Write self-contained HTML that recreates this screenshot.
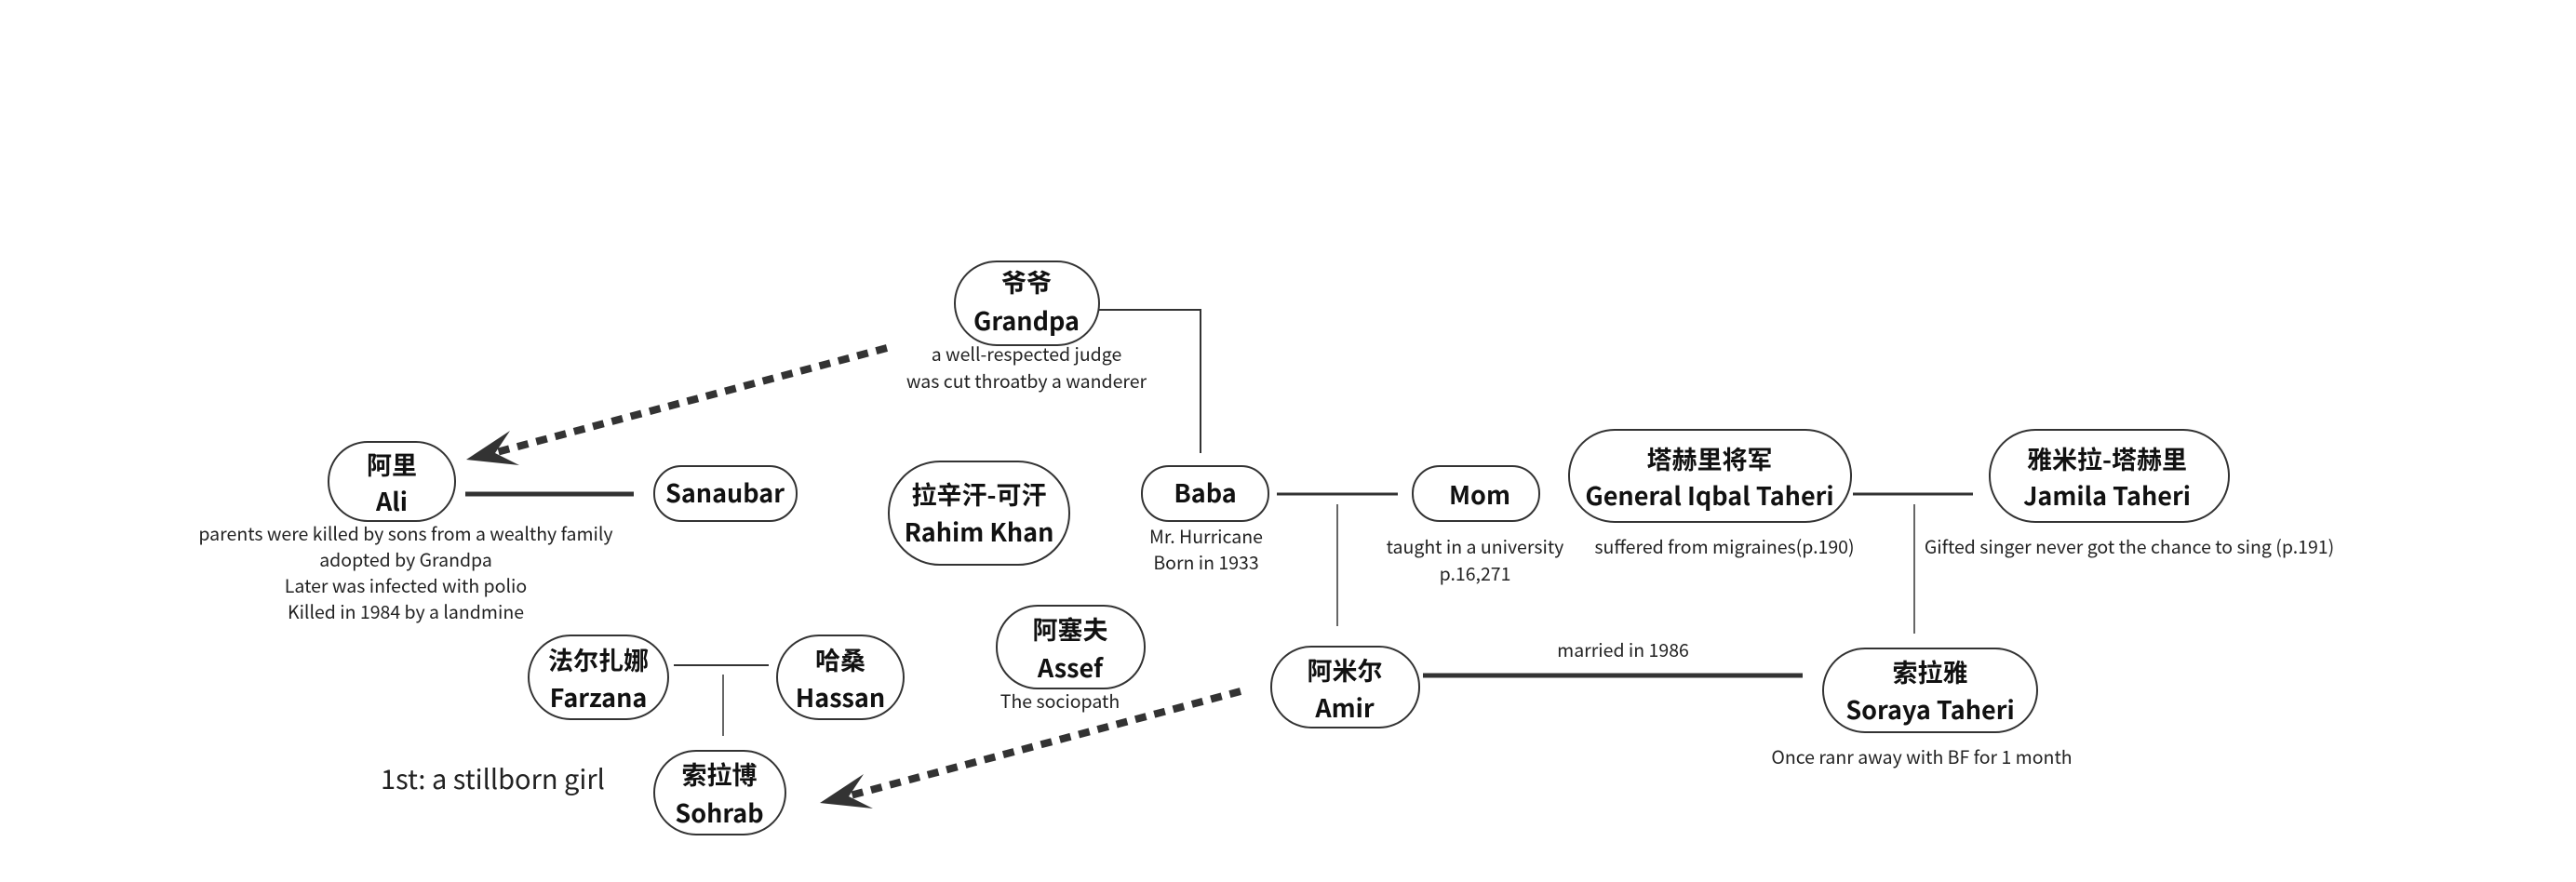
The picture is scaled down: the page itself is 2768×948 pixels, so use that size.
<!DOCTYPE html>
<html><head><meta charset="utf-8"><style>
html,body{margin:0;padding:0;background:#fff;}
svg{display:block;}
text{font-family:"Noto Sans CJK SC","Liberation Sans",sans-serif;fill:#111;}
.n{font-size:27px;font-weight:bold;text-anchor:middle;}
.t{font-size:19.5px;text-anchor:middle;fill:#222;}
.b{fill:#fff;stroke:#333;stroke-width:2;}
</style></head><body>
<svg width="2768" height="948" viewBox="0 0 2768 948" xmlns="http://www.w3.org/2000/svg">
<!-- connectors -->
<polyline points="1181,333 1290,333 1290,487" fill="none" stroke="#333" stroke-width="2"/>
<line x1="500" y1="531" x2="681" y2="531" stroke="#333" stroke-width="5"/>
<line x1="1372" y1="531" x2="1502" y2="531" stroke="#333" stroke-width="3"/>
<line x1="1437" y1="542" x2="1437" y2="673" stroke="#333" stroke-width="1.5"/>
<line x1="1991" y1="531" x2="2120" y2="531" stroke="#333" stroke-width="3"/>
<line x1="2057" y1="542" x2="2057" y2="681" stroke="#333" stroke-width="1.5"/>
<line x1="1529" y1="726" x2="1937" y2="726" stroke="#333" stroke-width="5"/>
<line x1="724" y1="715" x2="826" y2="715" stroke="#333" stroke-width="2"/>
<line x1="777" y1="725" x2="777" y2="791" stroke="#333" stroke-width="1.5"/>
<!-- dashed arrows -->
<line x1="953" y1="374" x2="530" y2="487" stroke="#333" stroke-width="8" stroke-dasharray="12 9"/>
<polygon points="501,494 548,463 532,487 558,500" fill="#333"/>
<line x1="1333" y1="743" x2="910" y2="856" stroke="#333" stroke-width="8" stroke-dasharray="12 9"/>
<polygon points="881,863 928,832 912,856 938,869" fill="#333"/>
<!-- nodes -->
<rect class="b" x="1026" y="281" width="155" height="90" rx="45"/>
<text class="n" x="1103" y="314">爷爷</text><text class="n" x="1103" y="355">Grandpa</text>
<text class="t" x="1103" y="388">a well-respected judge</text>
<text class="t" x="1103" y="417">was cut throatby a wanderer</text>

<rect class="b" x="353" y="475" width="136" height="85" rx="42"/>
<text class="n" x="421" y="510">阿里</text><text class="n" x="421" y="549">Ali</text>
<text class="t" x="436" y="581">parents were killed by sons from a wealthy family</text>
<text class="t" x="436" y="609">adopted by Grandpa</text>
<text class="t" x="436" y="637">Later was infected with polio</text>
<text class="t" x="436" y="665">Killed in 1984 by a landmine</text>

<rect class="b" x="703" y="501" width="153" height="59" rx="29"/>
<text class="n" x="779" y="540">Sanaubar</text>

<rect class="b" x="955" y="496" width="194" height="111" rx="55"/>
<text class="n" x="1052" y="542">拉辛汗-可汗</text><text class="n" x="1052" y="582">Rahim Khan</text>

<rect class="b" x="1227" y="501" width="136" height="59" rx="29"/>
<text class="n" x="1295" y="540">Baba</text>
<text class="t" x="1296" y="584">Mr. Hurricane</text>
<text class="t" x="1296" y="612">Born in 1933</text>

<rect class="b" x="1518" y="501" width="136" height="59" rx="29"/>
<text class="n" x="1590" y="542">Mom</text>
<text class="t" x="1585" y="595">taught in a university</text>
<text class="t" x="1585" y="624">p.16,271</text>

<rect class="b" x="1686" y="462" width="303" height="99" rx="49"/>
<text class="n" x="1837" y="504">塔赫里将军</text><text class="n" x="1837" y="543">General Iqbal Taheri</text>
<text class="t" x="1853" y="595">suffered from migraines(p.190)</text>

<rect class="b" x="2138" y="462" width="257" height="99" rx="49"/>
<text class="n" x="2264" y="504">雅米拉-塔赫里</text><text class="n" x="2264" y="543">Jamila Taheri</text>
<text class="t" x="2288" y="595">Gifted singer never got the chance to sing (p.191)</text>

<rect class="b" x="1366" y="695" width="159" height="87" rx="43"/>
<text class="n" x="1445" y="731">阿米尔</text><text class="n" x="1445" y="771">Amir</text>
<text class="t" x="1744" y="706">married in 1986</text>

<rect class="b" x="1959" y="697" width="230" height="90" rx="45"/>
<text class="n" x="2074" y="733">索拉雅</text><text class="n" x="2074" y="773">Soraya Taheri</text>
<text class="t" x="2065" y="821">Once ranr away with BF for 1 month</text>

<rect class="b" x="1071" y="651" width="159" height="89" rx="44"/>
<text class="n" x="1150" y="687">阿塞夫</text><text class="n" x="1150" y="728">Assef</text>
<text class="t" x="1139" y="761">The sociopath</text>

<rect class="b" x="568" y="683" width="150" height="90" rx="45"/>
<text class="n" x="643" y="720">法尔扎娜</text><text class="n" x="643" y="760">Farzana</text>

<rect class="b" x="835" y="683" width="136" height="90" rx="45"/>
<text class="n" x="903" y="720">哈桑</text><text class="n" x="903" y="760">Hassan</text>

<rect class="b" x="703" y="807" width="141" height="90" rx="45"/>
<text class="n" x="773" y="843">索拉博</text><text class="n" x="773" y="884">Sohrab</text>

<text x="409" y="848" style="font-size:29px;fill:#222;">1st: a stillborn girl</text>
</svg>
</body></html>
